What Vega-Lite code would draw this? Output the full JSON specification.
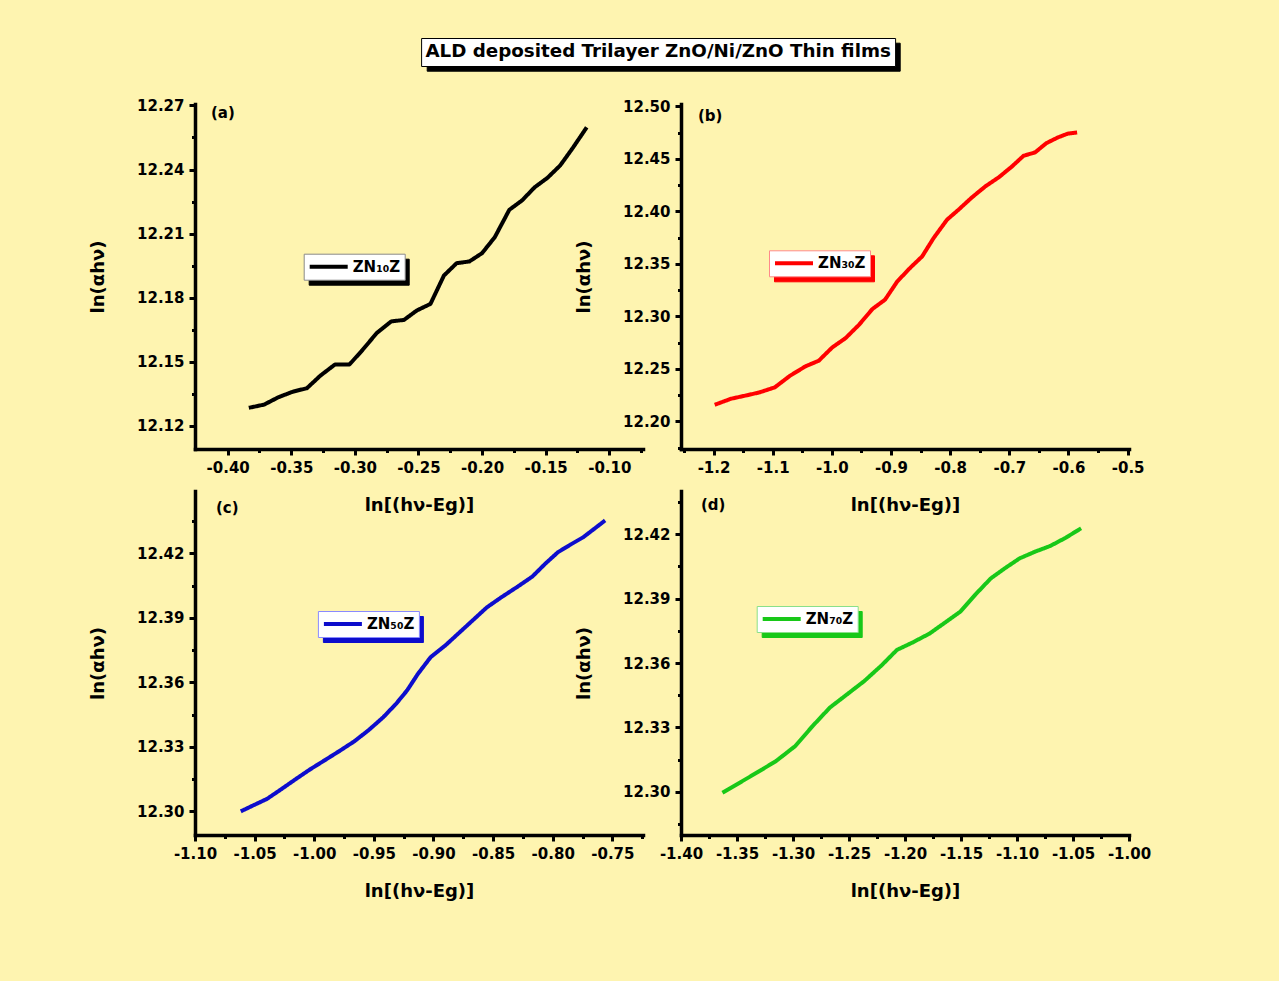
{
  "$schema": "https://vega.github.io/schema/vega-lite/v6.json",
  "background": "#fef4b0",
  "autosize": {"type": "pad"},
  "padding": {"left": 89, "top": 37, "right": 140, "bottom": 85},
  "data": {
    "values": [
      {"panel": "a", "sample": "ZN₁₀Z", "study": "ALD deposited Trilayer ZnO/Ni/ZnO Thin films", "ln_hv_Eg": -0.3834, "ln_ahv": 12.1283},
      {"panel": "a", "sample": "ZN₁₀Z", "study": "ALD deposited Trilayer ZnO/Ni/ZnO Thin films", "ln_hv_Eg": -0.3714, "ln_ahv": 12.1298},
      {"panel": "a", "sample": "ZN₁₀Z", "study": "ALD deposited Trilayer ZnO/Ni/ZnO Thin films", "ln_hv_Eg": -0.3600, "ln_ahv": 12.1333},
      {"panel": "a", "sample": "ZN₁₀Z", "study": "ALD deposited Trilayer ZnO/Ni/ZnO Thin films", "ln_hv_Eg": -0.3486, "ln_ahv": 12.1359},
      {"panel": "a", "sample": "ZN₁₀Z", "study": "ALD deposited Trilayer ZnO/Ni/ZnO Thin films", "ln_hv_Eg": -0.3377, "ln_ahv": 12.1375},
      {"panel": "a", "sample": "ZN₁₀Z", "study": "ALD deposited Trilayer ZnO/Ni/ZnO Thin films", "ln_hv_Eg": -0.3271, "ln_ahv": 12.1434},
      {"panel": "a", "sample": "ZN₁₀Z", "study": "ALD deposited Trilayer ZnO/Ni/ZnO Thin films", "ln_hv_Eg": -0.3157, "ln_ahv": 12.1486},
      {"panel": "a", "sample": "ZN₁₀Z", "study": "ALD deposited Trilayer ZnO/Ni/ZnO Thin films", "ln_hv_Eg": -0.3043, "ln_ahv": 12.1486},
      {"panel": "a", "sample": "ZN₁₀Z", "study": "ALD deposited Trilayer ZnO/Ni/ZnO Thin films", "ln_hv_Eg": -0.2943, "ln_ahv": 12.1552},
      {"panel": "a", "sample": "ZN₁₀Z", "study": "ALD deposited Trilayer ZnO/Ni/ZnO Thin films", "ln_hv_Eg": -0.2829, "ln_ahv": 12.1633},
      {"panel": "a", "sample": "ZN₁₀Z", "study": "ALD deposited Trilayer ZnO/Ni/ZnO Thin films", "ln_hv_Eg": -0.2714, "ln_ahv": 12.1688},
      {"panel": "a", "sample": "ZN₁₀Z", "study": "ALD deposited Trilayer ZnO/Ni/ZnO Thin films", "ln_hv_Eg": -0.2614, "ln_ahv": 12.1695},
      {"panel": "a", "sample": "ZN₁₀Z", "study": "ALD deposited Trilayer ZnO/Ni/ZnO Thin films", "ln_hv_Eg": -0.2514, "ln_ahv": 12.1739},
      {"panel": "a", "sample": "ZN₁₀Z", "study": "ALD deposited Trilayer ZnO/Ni/ZnO Thin films", "ln_hv_Eg": -0.2406, "ln_ahv": 12.1770},
      {"panel": "a", "sample": "ZN₁₀Z", "study": "ALD deposited Trilayer ZnO/Ni/ZnO Thin films", "ln_hv_Eg": -0.2300, "ln_ahv": 12.1903},
      {"panel": "a", "sample": "ZN₁₀Z", "study": "ALD deposited Trilayer ZnO/Ni/ZnO Thin films", "ln_hv_Eg": -0.2200, "ln_ahv": 12.1961},
      {"panel": "a", "sample": "ZN₁₀Z", "study": "ALD deposited Trilayer ZnO/Ni/ZnO Thin films", "ln_hv_Eg": -0.2100, "ln_ahv": 12.1969},
      {"panel": "a", "sample": "ZN₁₀Z", "study": "ALD deposited Trilayer ZnO/Ni/ZnO Thin films", "ln_hv_Eg": -0.2000, "ln_ahv": 12.2008},
      {"panel": "a", "sample": "ZN₁₀Z", "study": "ALD deposited Trilayer ZnO/Ni/ZnO Thin films", "ln_hv_Eg": -0.1900, "ln_ahv": 12.2083},
      {"panel": "a", "sample": "ZN₁₀Z", "study": "ALD deposited Trilayer ZnO/Ni/ZnO Thin films", "ln_hv_Eg": -0.1786, "ln_ahv": 12.2211},
      {"panel": "a", "sample": "ZN₁₀Z", "study": "ALD deposited Trilayer ZnO/Ni/ZnO Thin films", "ln_hv_Eg": -0.1686, "ln_ahv": 12.2255},
      {"panel": "a", "sample": "ZN₁₀Z", "study": "ALD deposited Trilayer ZnO/Ni/ZnO Thin films", "ln_hv_Eg": -0.1586, "ln_ahv": 12.2317},
      {"panel": "a", "sample": "ZN₁₀Z", "study": "ALD deposited Trilayer ZnO/Ni/ZnO Thin films", "ln_hv_Eg": -0.1486, "ln_ahv": 12.2361},
      {"panel": "a", "sample": "ZN₁₀Z", "study": "ALD deposited Trilayer ZnO/Ni/ZnO Thin films", "ln_hv_Eg": -0.1386, "ln_ahv": 12.2419},
      {"panel": "a", "sample": "ZN₁₀Z", "study": "ALD deposited Trilayer ZnO/Ni/ZnO Thin films", "ln_hv_Eg": -0.1286, "ln_ahv": 12.2502},
      {"panel": "a", "sample": "ZN₁₀Z", "study": "ALD deposited Trilayer ZnO/Ni/ZnO Thin films", "ln_hv_Eg": -0.1177, "ln_ahv": 12.2598},

      {"panel": "b", "sample": "ZN₃₀Z", "study": "ALD deposited Trilayer ZnO/Ni/ZnO Thin films", "ln_hv_Eg": -1.1980, "ln_ahv": 12.2158},
      {"panel": "b", "sample": "ZN₃₀Z", "study": "ALD deposited Trilayer ZnO/Ni/ZnO Thin films", "ln_hv_Eg": -1.1709, "ln_ahv": 12.2215},
      {"panel": "b", "sample": "ZN₃₀Z", "study": "ALD deposited Trilayer ZnO/Ni/ZnO Thin films", "ln_hv_Eg": -1.1450, "ln_ahv": 12.2247},
      {"panel": "b", "sample": "ZN₃₀Z", "study": "ALD deposited Trilayer ZnO/Ni/ZnO Thin films", "ln_hv_Eg": -1.1224, "ln_ahv": 12.2276},
      {"panel": "b", "sample": "ZN₃₀Z", "study": "ALD deposited Trilayer ZnO/Ni/ZnO Thin films", "ln_hv_Eg": -1.0965, "ln_ahv": 12.2324},
      {"panel": "b", "sample": "ZN₃₀Z", "study": "ALD deposited Trilayer ZnO/Ni/ZnO Thin films", "ln_hv_Eg": -1.0706, "ln_ahv": 12.2435},
      {"panel": "b", "sample": "ZN₃₀Z", "study": "ALD deposited Trilayer ZnO/Ni/ZnO Thin films", "ln_hv_Eg": -1.0447, "ln_ahv": 12.2524},
      {"panel": "b", "sample": "ZN₃₀Z", "study": "ALD deposited Trilayer ZnO/Ni/ZnO Thin films", "ln_hv_Eg": -1.0221, "ln_ahv": 12.2578},
      {"panel": "b", "sample": "ZN₃₀Z", "study": "ALD deposited Trilayer ZnO/Ni/ZnO Thin films", "ln_hv_Eg": -0.9994, "ln_ahv": 12.2704},
      {"panel": "b", "sample": "ZN₃₀Z", "study": "ALD deposited Trilayer ZnO/Ni/ZnO Thin films", "ln_hv_Eg": -0.9768, "ln_ahv": 12.2793},
      {"panel": "b", "sample": "ZN₃₀Z", "study": "ALD deposited Trilayer ZnO/Ni/ZnO Thin films", "ln_hv_Eg": -0.9541, "ln_ahv": 12.2920},
      {"panel": "b", "sample": "ZN₃₀Z", "study": "ALD deposited Trilayer ZnO/Ni/ZnO Thin films", "ln_hv_Eg": -0.9315, "ln_ahv": 12.3070},
      {"panel": "b", "sample": "ZN₃₀Z", "study": "ALD deposited Trilayer ZnO/Ni/ZnO Thin films", "ln_hv_Eg": -0.9101, "ln_ahv": 12.3159},
      {"panel": "b", "sample": "ZN₃₀Z", "study": "ALD deposited Trilayer ZnO/Ni/ZnO Thin films", "ln_hv_Eg": -0.8894, "ln_ahv": 12.3333},
      {"panel": "b", "sample": "ZN₃₀Z", "study": "ALD deposited Trilayer ZnO/Ni/ZnO Thin films", "ln_hv_Eg": -0.8668, "ln_ahv": 12.3467},
      {"panel": "b", "sample": "ZN₃₀Z", "study": "ALD deposited Trilayer ZnO/Ni/ZnO Thin films", "ln_hv_Eg": -0.8474, "ln_ahv": 12.3571},
      {"panel": "b", "sample": "ZN₃₀Z", "study": "ALD deposited Trilayer ZnO/Ni/ZnO Thin films", "ln_hv_Eg": -0.8280, "ln_ahv": 12.3746},
      {"panel": "b", "sample": "ZN₃₀Z", "study": "ALD deposited Trilayer ZnO/Ni/ZnO Thin films", "ln_hv_Eg": -0.8053, "ln_ahv": 12.3921},
      {"panel": "b", "sample": "ZN₃₀Z", "study": "ALD deposited Trilayer ZnO/Ni/ZnO Thin films", "ln_hv_Eg": -0.7859, "ln_ahv": 12.4016},
      {"panel": "b", "sample": "ZN₃₀Z", "study": "ALD deposited Trilayer ZnO/Ni/ZnO Thin films", "ln_hv_Eg": -0.7633, "ln_ahv": 12.4133},
      {"panel": "b", "sample": "ZN₃₀Z", "study": "ALD deposited Trilayer ZnO/Ni/ZnO Thin films", "ln_hv_Eg": -0.7406, "ln_ahv": 12.4238},
      {"panel": "b", "sample": "ZN₃₀Z", "study": "ALD deposited Trilayer ZnO/Ni/ZnO Thin films", "ln_hv_Eg": -0.7180, "ln_ahv": 12.4324},
      {"panel": "b", "sample": "ZN₃₀Z", "study": "ALD deposited Trilayer ZnO/Ni/ZnO Thin films", "ln_hv_Eg": -0.6953, "ln_ahv": 12.4429},
      {"panel": "b", "sample": "ZN₃₀Z", "study": "ALD deposited Trilayer ZnO/Ni/ZnO Thin films", "ln_hv_Eg": -0.6759, "ln_ahv": 12.4530},
      {"panel": "b", "sample": "ZN₃₀Z", "study": "ALD deposited Trilayer ZnO/Ni/ZnO Thin films", "ln_hv_Eg": -0.6565, "ln_ahv": 12.4562},
      {"panel": "b", "sample": "ZN₃₀Z", "study": "ALD deposited Trilayer ZnO/Ni/ZnO Thin films", "ln_hv_Eg": -0.6371, "ln_ahv": 12.4651},
      {"panel": "b", "sample": "ZN₃₀Z", "study": "ALD deposited Trilayer ZnO/Ni/ZnO Thin films", "ln_hv_Eg": -0.6177, "ln_ahv": 12.4705},
      {"panel": "b", "sample": "ZN₃₀Z", "study": "ALD deposited Trilayer ZnO/Ni/ZnO Thin films", "ln_hv_Eg": -0.6015, "ln_ahv": 12.4740},
      {"panel": "b", "sample": "ZN₃₀Z", "study": "ALD deposited Trilayer ZnO/Ni/ZnO Thin films", "ln_hv_Eg": -0.5854, "ln_ahv": 12.4752},

      {"panel": "c", "sample": "ZN₅₀Z", "study": "ALD deposited Trilayer ZnO/Ni/ZnO Thin films", "ln_hv_Eg": -1.0616, "ln_ahv": 12.3000},
      {"panel": "c", "sample": "ZN₅₀Z", "study": "ALD deposited Trilayer ZnO/Ni/ZnO Thin films", "ln_hv_Eg": -1.0518, "ln_ahv": 12.3026},
      {"panel": "c", "sample": "ZN₅₀Z", "study": "ALD deposited Trilayer ZnO/Ni/ZnO Thin films", "ln_hv_Eg": -1.0396, "ln_ahv": 12.3058},
      {"panel": "c", "sample": "ZN₅₀Z", "study": "ALD deposited Trilayer ZnO/Ni/ZnO Thin films", "ln_hv_Eg": -1.0274, "ln_ahv": 12.3104},
      {"panel": "c", "sample": "ZN₅₀Z", "study": "ALD deposited Trilayer ZnO/Ni/ZnO Thin films", "ln_hv_Eg": -1.0152, "ln_ahv": 12.3151},
      {"panel": "c", "sample": "ZN₅₀Z", "study": "ALD deposited Trilayer ZnO/Ni/ZnO Thin films", "ln_hv_Eg": -1.0030, "ln_ahv": 12.3197},
      {"panel": "c", "sample": "ZN₅₀Z", "study": "ALD deposited Trilayer ZnO/Ni/ZnO Thin films", "ln_hv_Eg": -0.9908, "ln_ahv": 12.3239},
      {"panel": "c", "sample": "ZN₅₀Z", "study": "ALD deposited Trilayer ZnO/Ni/ZnO Thin films", "ln_hv_Eg": -0.9785, "ln_ahv": 12.3282},
      {"panel": "c", "sample": "ZN₅₀Z", "study": "ALD deposited Trilayer ZnO/Ni/ZnO Thin films", "ln_hv_Eg": -0.9663, "ln_ahv": 12.3326},
      {"panel": "c", "sample": "ZN₅₀Z", "study": "ALD deposited Trilayer ZnO/Ni/ZnO Thin films", "ln_hv_Eg": -0.9541, "ln_ahv": 12.3379},
      {"panel": "c", "sample": "ZN₅₀Z", "study": "ALD deposited Trilayer ZnO/Ni/ZnO Thin films", "ln_hv_Eg": -0.9421, "ln_ahv": 12.3438},
      {"panel": "c", "sample": "ZN₅₀Z", "study": "ALD deposited Trilayer ZnO/Ni/ZnO Thin films", "ln_hv_Eg": -0.9314, "ln_ahv": 12.3500},
      {"panel": "c", "sample": "ZN₅₀Z", "study": "ALD deposited Trilayer ZnO/Ni/ZnO Thin films", "ln_hv_Eg": -0.9222, "ln_ahv": 12.3562},
      {"panel": "c", "sample": "ZN₅₀Z", "study": "ALD deposited Trilayer ZnO/Ni/ZnO Thin films", "ln_hv_Eg": -0.9131, "ln_ahv": 12.3639},
      {"panel": "c", "sample": "ZN₅₀Z", "study": "ALD deposited Trilayer ZnO/Ni/ZnO Thin films", "ln_hv_Eg": -0.9024, "ln_ahv": 12.3717},
      {"panel": "c", "sample": "ZN₅₀Z", "study": "ALD deposited Trilayer ZnO/Ni/ZnO Thin films", "ln_hv_Eg": -0.8902, "ln_ahv": 12.3771},
      {"panel": "c", "sample": "ZN₅₀Z", "study": "ALD deposited Trilayer ZnO/Ni/ZnO Thin films", "ln_hv_Eg": -0.8780, "ln_ahv": 12.3833},
      {"panel": "c", "sample": "ZN₅₀Z", "study": "ALD deposited Trilayer ZnO/Ni/ZnO Thin films", "ln_hv_Eg": -0.8658, "ln_ahv": 12.3895},
      {"panel": "c", "sample": "ZN₅₀Z", "study": "ALD deposited Trilayer ZnO/Ni/ZnO Thin films", "ln_hv_Eg": -0.8552, "ln_ahv": 12.3949},
      {"panel": "c", "sample": "ZN₅₀Z", "study": "ALD deposited Trilayer ZnO/Ni/ZnO Thin films", "ln_hv_Eg": -0.8430, "ln_ahv": 12.3996},
      {"panel": "c", "sample": "ZN₅₀Z", "study": "ALD deposited Trilayer ZnO/Ni/ZnO Thin films", "ln_hv_Eg": -0.8292, "ln_ahv": 12.4046},
      {"panel": "c", "sample": "ZN₅₀Z", "study": "ALD deposited Trilayer ZnO/Ni/ZnO Thin films", "ln_hv_Eg": -0.8171, "ln_ahv": 12.4092},
      {"panel": "c", "sample": "ZN₅₀Z", "study": "ALD deposited Trilayer ZnO/Ni/ZnO Thin films", "ln_hv_Eg": -0.8064, "ln_ahv": 12.4151},
      {"panel": "c", "sample": "ZN₅₀Z", "study": "ALD deposited Trilayer ZnO/Ni/ZnO Thin films", "ln_hv_Eg": -0.7957, "ln_ahv": 12.4205},
      {"panel": "c", "sample": "ZN₅₀Z", "study": "ALD deposited Trilayer ZnO/Ni/ZnO Thin films", "ln_hv_Eg": -0.7850, "ln_ahv": 12.4241},
      {"panel": "c", "sample": "ZN₅₀Z", "study": "ALD deposited Trilayer ZnO/Ni/ZnO Thin films", "ln_hv_Eg": -0.7744, "ln_ahv": 12.4275},
      {"panel": "c", "sample": "ZN₅₀Z", "study": "ALD deposited Trilayer ZnO/Ni/ZnO Thin films", "ln_hv_Eg": -0.7652, "ln_ahv": 12.4314},
      {"panel": "c", "sample": "ZN₅₀Z", "study": "ALD deposited Trilayer ZnO/Ni/ZnO Thin films", "ln_hv_Eg": -0.7561, "ln_ahv": 12.4353},

      {"panel": "d", "sample": "ZN₇₀Z", "study": "ALD deposited Trilayer ZnO/Ni/ZnO Thin films", "ln_hv_Eg": -1.3630, "ln_ahv": 12.2995},
      {"panel": "d", "sample": "ZN₇₀Z", "study": "ALD deposited Trilayer ZnO/Ni/ZnO Thin films", "ln_hv_Eg": -1.3476, "ln_ahv": 12.3042},
      {"panel": "d", "sample": "ZN₇₀Z", "study": "ALD deposited Trilayer ZnO/Ni/ZnO Thin films", "ln_hv_Eg": -1.3322, "ln_ahv": 12.3089},
      {"panel": "d", "sample": "ZN₇₀Z", "study": "ALD deposited Trilayer ZnO/Ni/ZnO Thin films", "ln_hv_Eg": -1.3151, "ln_ahv": 12.3143},
      {"panel": "d", "sample": "ZN₇₀Z", "study": "ALD deposited Trilayer ZnO/Ni/ZnO Thin films", "ln_hv_Eg": -1.2979, "ln_ahv": 12.3213},
      {"panel": "d", "sample": "ZN₇₀Z", "study": "ALD deposited Trilayer ZnO/Ni/ZnO Thin films", "ln_hv_Eg": -1.2825, "ln_ahv": 12.3306},
      {"panel": "d", "sample": "ZN₇₀Z", "study": "ALD deposited Trilayer ZnO/Ni/ZnO Thin films", "ln_hv_Eg": -1.2671, "ln_ahv": 12.3392},
      {"panel": "d", "sample": "ZN₇₀Z", "study": "ALD deposited Trilayer ZnO/Ni/ZnO Thin films", "ln_hv_Eg": -1.2517, "ln_ahv": 12.3454},
      {"panel": "d", "sample": "ZN₇₀Z", "study": "ALD deposited Trilayer ZnO/Ni/ZnO Thin films", "ln_hv_Eg": -1.2363, "ln_ahv": 12.3516},
      {"panel": "d", "sample": "ZN₇₀Z", "study": "ALD deposited Trilayer ZnO/Ni/ZnO Thin films", "ln_hv_Eg": -1.2209, "ln_ahv": 12.3589},
      {"panel": "d", "sample": "ZN₇₀Z", "study": "ALD deposited Trilayer ZnO/Ni/ZnO Thin films", "ln_hv_Eg": -1.2072, "ln_ahv": 12.3661},
      {"panel": "d", "sample": "ZN₇₀Z", "study": "ALD deposited Trilayer ZnO/Ni/ZnO Thin films", "ln_hv_Eg": -1.1935, "ln_ahv": 12.3695},
      {"panel": "d", "sample": "ZN₇₀Z", "study": "ALD deposited Trilayer ZnO/Ni/ZnO Thin films", "ln_hv_Eg": -1.1781, "ln_ahv": 12.3737},
      {"panel": "d", "sample": "ZN₇₀Z", "study": "ALD deposited Trilayer ZnO/Ni/ZnO Thin films", "ln_hv_Eg": -1.1644, "ln_ahv": 12.3788},
      {"panel": "d", "sample": "ZN₇₀Z", "study": "ALD deposited Trilayer ZnO/Ni/ZnO Thin films", "ln_hv_Eg": -1.1507, "ln_ahv": 12.3839},
      {"panel": "d", "sample": "ZN₇₀Z", "study": "ALD deposited Trilayer ZnO/Ni/ZnO Thin films", "ln_hv_Eg": -1.1370, "ln_ahv": 12.3920},
      {"panel": "d", "sample": "ZN₇₀Z", "study": "ALD deposited Trilayer ZnO/Ni/ZnO Thin films", "ln_hv_Eg": -1.1233, "ln_ahv": 12.3995},
      {"panel": "d", "sample": "ZN₇₀Z", "study": "ALD deposited Trilayer ZnO/Ni/ZnO Thin films", "ln_hv_Eg": -1.1113, "ln_ahv": 12.4040},
      {"panel": "d", "sample": "ZN₇₀Z", "study": "ALD deposited Trilayer ZnO/Ni/ZnO Thin films", "ln_hv_Eg": -1.0976, "ln_ahv": 12.4088},
      {"panel": "d", "sample": "ZN₇₀Z", "study": "ALD deposited Trilayer ZnO/Ni/ZnO Thin films", "ln_hv_Eg": -1.0839, "ln_ahv": 12.4119},
      {"panel": "d", "sample": "ZN₇₀Z", "study": "ALD deposited Trilayer ZnO/Ni/ZnO Thin films", "ln_hv_Eg": -1.0702, "ln_ahv": 12.4146},
      {"panel": "d", "sample": "ZN₇₀Z", "study": "ALD deposited Trilayer ZnO/Ni/ZnO Thin films", "ln_hv_Eg": -1.0565, "ln_ahv": 12.4184},
      {"panel": "d", "sample": "ZN₇₀Z", "study": "ALD deposited Trilayer ZnO/Ni/ZnO Thin films", "ln_hv_Eg": -1.0428, "ln_ahv": 12.4228}
    ]
  },
  "columns": 2,
  "spacing": {"row": 42, "column": 38},
  "bounds": "flush",
  "resolve": {
    "scale": {"color": "independent", "strokeDash": "independent", "opacity": "independent"},
    "legend": {"color": "independent", "strokeDash": "independent", "opacity": "independent"}
  },
  "concat": [
    {
      "width": 448,
      "height": 345,
      "title": {"text": "(a)", "dx": 16, "offset": -79},
      "transform": [{"filter": "datum.panel === 'a'"}],
      "mark": {"type": "line", "strokeWidth": 4, "strokeJoin": "round"},
      "encoding": {
        "x": {
          "field": "ln_hv_Eg", "type": "quantitative",
          "scale": {"domain": [-0.4257, -0.0735], "nice": false, "zero": false},
          "axis": {
            "title": "ln[(hν-Eg)]",
            "format": ".2f",
            "values": [-0.4, -0.375, -0.35, -0.325, -0.3, -0.275, -0.25, -0.225, -0.2, -0.175, -0.15, -0.125, -0.1, -0.075],
            "labelExpr": "round(datum.value * 200) % 2 == 0 ? replace(datum.label, '−', '-') : ''",
            "tickSize": {"condition": {"test": "round(datum.value * 200) % 2 == 0", "value": 6}, "value": 3.5}
          }
        },
        "y": {
          "field": "ln_ahv", "type": "quantitative",
          "scale": {"domain": [12.109, 12.2707], "nice": false, "zero": false},
          "axis": {
            "title": "ln(αhν)",
            "format": ".2f",
            "values": [12.12, 12.135, 12.15, 12.165, 12.18, 12.195, 12.21, 12.225, 12.24, 12.255, 12.27],
            "labelExpr": "round(datum.value * 1000 / 15) % 2 == 0 ? datum.label : ''",
            "tickSize": {"condition": {"test": "round(datum.value * 1000 / 15) % 2 == 0", "value": 6}, "value": 3.5}
          }
        },
        "color": {
          "field": "sample", "type": "nominal",
          "scale": {"range": ["#000000"]},
          "legend": {"title": null, "legendX": 108.7, "legendY": 149.7, "fillColor": "#ffffff", "strokeColor": "#8a8a8a", "symbolStrokeColor": "#000000", "labelColor": "#000000", "zindex": 2}
        },
        "strokeDash": {
          "field": "panel", "type": "nominal",
          "scale": {"range": [[1, 0]]},
          "legend": {"title": null, "legendX": 113.7, "legendY": 154.7, "fillColor": "#000000", "strokeColor": "#000000", "symbolStrokeColor": "#000000", "labelExpr": "''", "labelOffset": 0, "symbolSize": 7744, "zindex": 1}
        },
        "opacity": {
          "field": "study", "type": "ordinal",
          "scale": {"range": [1, 1]},
          "legend": {"title": null, "legendX": 231.7, "legendY": -61.3, "fillColor": "#000000", "strokeColor": "#000000", "symbolStrokeColor": "#000000", "labelExpr": "''", "labelOffset": 0, "symbolSize": 212521, "clipHeight": 20, "padding": 4, "zindex": 1}
        }
      }
    },
    {
      "width": 448,
      "height": 345,
      "title": {"text": "(b)", "dx": 17, "offset": -86},
      "transform": [{"filter": "datum.panel === 'b'"}],
      "mark": {"type": "line", "strokeWidth": 4, "strokeJoin": "round"},
      "encoding": {
        "x": {
          "field": "ln_hv_Eg", "type": "quantitative",
          "scale": {"domain": [-1.255, -0.4977], "nice": false, "zero": false},
          "axis": {
            "title": "ln[(hν-Eg)]",
            "format": ".1f",
            "values": [-1.25, -1.2, -1.15, -1.1, -1.05, -1.0, -0.95, -0.9, -0.85, -0.8, -0.75, -0.7, -0.65, -0.6, -0.55, -0.5],
            "labelExpr": "round(datum.value * 20) % 2 == 0 ? replace(datum.label, '−', '-') : ''",
            "tickSize": {"condition": {"test": "round(datum.value * 20) % 2 == 0", "value": 6}, "value": 3.5}
          }
        },
        "y": {
          "field": "ln_ahv", "type": "quantitative",
          "scale": {"domain": [12.1737, 12.5023], "nice": false, "zero": false},
          "axis": {
            "title": "ln(αhν)",
            "format": ".2f",
            "values": [12.175, 12.2, 12.225, 12.25, 12.275, 12.3, 12.325, 12.35, 12.375, 12.4, 12.425, 12.45, 12.475, 12.5],
            "labelExpr": "round(datum.value * 40) % 2 == 0 ? datum.label : ''",
            "tickSize": {"condition": {"test": "round(datum.value * 40) % 2 == 0", "value": 6}, "value": 3.5}
          }
        },
        "color": {
          "field": "sample", "type": "nominal",
          "scale": {"range": ["#ff0000"]},
          "legend": {"title": null, "legendX": 88, "legendY": 146.3, "fillColor": "#ffffff", "strokeColor": "#ff8a8a", "symbolStrokeColor": "#ff0000", "labelColor": "#000000", "zindex": 2}
        },
        "strokeDash": {
          "field": "panel", "type": "nominal",
          "scale": {"range": [[1, 0]]},
          "legend": {"title": null, "legendX": 93, "legendY": 151.3, "fillColor": "#ff0000", "strokeColor": "#ff0000", "symbolStrokeColor": "#ff0000", "labelExpr": "''", "labelOffset": 0, "symbolSize": 7744, "zindex": 1}
        },
        "opacity": {
          "field": "study", "type": "ordinal",
          "scale": {"range": [1, 1]},
          "legend": {"title": null, "legendX": -259.9, "legendY": -66, "fillColor": "#ffffff", "strokeColor": "#000000", "symbolStrokeColor": "#ffffff", "labelColor": "#000000", "labelFontSize": 18.3, "labelLimit": 0, "symbolSize": 1, "clipHeight": 20, "padding": 4, "labelOffset": -18, "zindex": 2}
        }
      }
    },
    {
      "width": 448,
      "height": 344,
      "title": {"text": "(c)", "dx": 21, "offset": -25},
      "transform": [{"filter": "datum.panel === 'c'"}],
      "mark": {"type": "line", "strokeWidth": 4, "strokeJoin": "round"},
      "encoding": {
        "x": {
          "field": "ln_hv_Eg", "type": "quantitative",
          "scale": {"domain": [-1.1, -0.7243], "nice": false, "zero": false},
          "axis": {
            "title": "ln[(hν-Eg)]",
            "format": ".2f",
            "values": [-1.1, -1.075, -1.05, -1.025, -1.0, -0.975, -0.95, -0.925, -0.9, -0.875, -0.85, -0.825, -0.8, -0.775, -0.75, -0.725],
            "labelExpr": "round(datum.value * 40) % 2 == 0 ? replace(datum.label, '−', '-') : ''",
            "tickSize": {"condition": {"test": "round(datum.value * 40) % 2 == 0", "value": 6}, "value": 3.5}
          }
        },
        "y": {
          "field": "ln_ahv", "type": "quantitative",
          "scale": {"domain": [12.289, 12.449], "nice": false, "zero": false},
          "axis": {
            "title": "ln(αhν)",
            "format": ".2f",
            "values": [12.3, 12.315, 12.33, 12.345, 12.36, 12.375, 12.39, 12.405, 12.42, 12.435, 12.45],
            "labelExpr": "round(datum.value * 1000 / 15) % 2 == 0 ? datum.label : ''",
            "tickSize": {"condition": {"test": "round(datum.value * 1000 / 15) % 2 == 0", "value": 6}, "value": 3.5}
          }
        },
        "color": {
          "field": "sample", "type": "nominal",
          "scale": {"range": ["#0d0dcc"]},
          "legend": {"title": null, "legendX": 122.9, "legendY": 120, "fillColor": "#ffffff", "strokeColor": "#8a8aff", "symbolStrokeColor": "#0d0dcc", "labelColor": "#000000", "zindex": 2}
        },
        "strokeDash": {
          "field": "panel", "type": "nominal",
          "scale": {"range": [[1, 0]]},
          "legend": {"title": null, "legendX": 127.9, "legendY": 125, "fillColor": "#0d0dcc", "strokeColor": "#0d0dcc", "symbolStrokeColor": "#0d0dcc", "labelExpr": "''", "labelOffset": 0, "symbolSize": 7744, "zindex": 1}
        }
      }
    },
    {
      "width": 448,
      "height": 344,
      "title": {"text": "(d)", "dx": 20, "offset": -22},
      "transform": [{"filter": "datum.panel === 'd'"}],
      "mark": {"type": "line", "strokeWidth": 4, "strokeJoin": "round"},
      "encoding": {
        "x": {
          "field": "ln_hv_Eg", "type": "quantitative",
          "scale": {"domain": [-1.4, -1.0], "nice": false, "zero": false},
          "axis": {
            "title": "ln[(hν-Eg)]",
            "format": ".2f",
            "values": [-1.4, -1.375, -1.35, -1.325, -1.3, -1.275, -1.25, -1.225, -1.2, -1.175, -1.15, -1.125, -1.1, -1.075, -1.05, -1.025, -1.0],
            "labelExpr": "round(datum.value * 40) % 2 == 0 ? replace(datum.label, '−', '-') : ''",
            "tickSize": {"condition": {"test": "round(datum.value * 40) % 2 == 0", "value": 6}, "value": 3.5}
          }
        },
        "y": {
          "field": "ln_ahv", "type": "quantitative",
          "scale": {"domain": [12.2798, 12.4402], "nice": false, "zero": false},
          "axis": {
            "title": "ln(αhν)",
            "format": ".2f",
            "values": [12.285, 12.3, 12.315, 12.33, 12.345, 12.36, 12.375, 12.39, 12.405, 12.42, 12.435],
            "labelExpr": "round(datum.value * 1000 / 15) % 2 == 0 ? datum.label : ''",
            "tickSize": {"condition": {"test": "round(datum.value * 1000 / 15) % 2 == 0", "value": 6}, "value": 3.5}
          }
        },
        "color": {
          "field": "sample", "type": "nominal",
          "scale": {"range": ["#18c818"]},
          "legend": {"title": null, "legendX": 75.7, "legendY": 115, "fillColor": "#ffffff", "strokeColor": "#8ae08a", "symbolStrokeColor": "#18c818", "labelColor": "#000000", "zindex": 2}
        },
        "strokeDash": {
          "field": "panel", "type": "nominal",
          "scale": {"range": [[1, 0]]},
          "legend": {"title": null, "legendX": 80.7, "legendY": 120, "fillColor": "#18c818", "strokeColor": "#18c818", "symbolStrokeColor": "#18c818", "labelExpr": "''", "labelOffset": 0, "symbolSize": 7744, "zindex": 1}
        }
      }
    }
  ],
  "config": {
    "view": {"stroke": null},
    "font": "DejaVu Sans",
    "title": {"anchor": "start", "frame": "group", "baseline": "alphabetic", "font": "DejaVu Sans", "fontWeight": "bold", "fontSize": 15, "color": "#000000"},
    "axis": {
      "grid": false,
      "domainColor": "#000000",
      "domainWidth": 3.5,
      "domainCap": "square",
      "tickColor": "#000000",
      "tickWidth": 3,
      "labelFont": "DejaVu Sans",
      "labelFontWeight": "bold",
      "labelFontSize": 15,
      "labelColor": "#000000",
      "labelPadding": 5,
      "labelFlush": false,
      "labelOverlap": false,
      "titleFont": "DejaVu Sans",
      "titleFontWeight": "bold",
      "titleFontSize": 18,
      "titleColor": "#000000"
    },
    "axisX": {"titlePadding": 21},
    "axisY": {"titlePadding": 29},
    "legend": {
      "orient": "none",
      "symbolType": "stroke",
      "symbolSize": 1444,
      "symbolStrokeWidth": 4,
      "clipHeight": 18,
      "padding": 4,
      "labelFont": "DejaVu Sans",
      "labelFontWeight": "bold",
      "labelFontSize": 15,
      "labelOffset": 3
    }
  }
}
